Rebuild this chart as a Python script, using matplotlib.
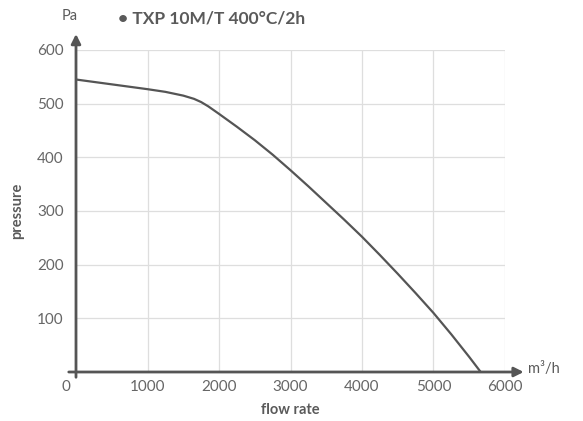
import matplotlib.pyplot as plt
import matplotlib.transforms as mtransforms

# fan curve
flow = [0, 500, 1000, 1250, 1500, 1650, 1750, 1850, 2000, 2250, 2500, 2750, 3000,
        3250, 3500, 3750, 4000, 4250, 4500, 4750, 5000, 5250, 5500, 5660]
pressure = [545, 536, 527, 522, 515, 509, 503, 495, 481, 457, 432, 405, 376,
            346, 315, 284, 252, 218, 183, 147, 110, 70, 28, 0]

xticks = [0, 1000, 2000, 3000, 4000, 5000, 6000]
yticks = [100, 200, 300, 400, 500, 600]
title = "• TXP 10M/T 400°C/2h"

plt.rcParams['font.family'] = ['Lato', 'DejaVu Sans']
axis_col = '#555555'
text_col = '#5a5a5a'

fig = plt.figure(figsize=(5.83, 4.21), dpi=100)
ax = fig.add_axes([76 / 583, 1 - 372 / 421, 429 / 583, 322 / 421])
ax.set_xlim(0, 6000)
ax.set_ylim(0, 600)

# grid
for x in xticks[1:]:
    ax.plot([x, x], [0, 600], color='#dedede', lw=0.9, zorder=1)
for y in yticks:
    ax.plot([0, 6000], [y, y], color='#dedede', lw=0.9, zorder=1)

ax.plot(flow, pressure, color='#555555', lw=1.6, zorder=3, solid_capstyle='round')

for s in ax.spines.values():
    s.set_visible(False)

# axes with arrows
ax.annotate('', xy=(6300, 0), xytext=(-140, 0),
            arrowprops=dict(arrowstyle='-|>', color=axis_col, lw=2, mutation_scale=14),
            annotation_clip=False, zorder=4)
ax.annotate('', xy=(0, 635), xytext=(0, -15),
            arrowprops=dict(arrowstyle='-|>', color=axis_col, lw=2, mutation_scale=14),
            annotation_clip=False, zorder=4)

ax.set_xticks(xticks)
ax.set_xticklabels([str(v) for v in xticks])
ax.set_yticks(yticks)
ax.set_yticklabels([str(v) for v in yticks])
ax.tick_params(length=0, labelsize=11, labelcolor='#666666')
ax.tick_params(axis='x', pad=6)
ax.tick_params(axis='y', pad=9)
lab0 = ax.get_xticklabels()[0]
lab0.set_transform(lab0.get_transform() + mtransforms.ScaledTranslation(-10 / 100, 0, fig.dpi_scale_trans))

ax.set_xlabel('flow rate', fontsize=10.5, fontweight='bold', color=text_col, labelpad=6)
ax.set_ylabel('pressure', fontsize=10.5, fontweight='bold', color=text_col, labelpad=9)

fig.text(70 / 583, 1 - 16 / 421, 'Pa', fontsize=10.5, color=text_col, ha='center', va='center')
fig.text(528 / 583, 1 - 369 / 421, 'm³/h', fontsize=10.5, color=text_col, ha='left', va='center')
fig.text(118 / 583, 1 - 18 / 421, title, fontsize=12.5, fontweight='bold', color=text_col,
         ha='left', va='center')

fig.savefig('out.png', dpi=100)
